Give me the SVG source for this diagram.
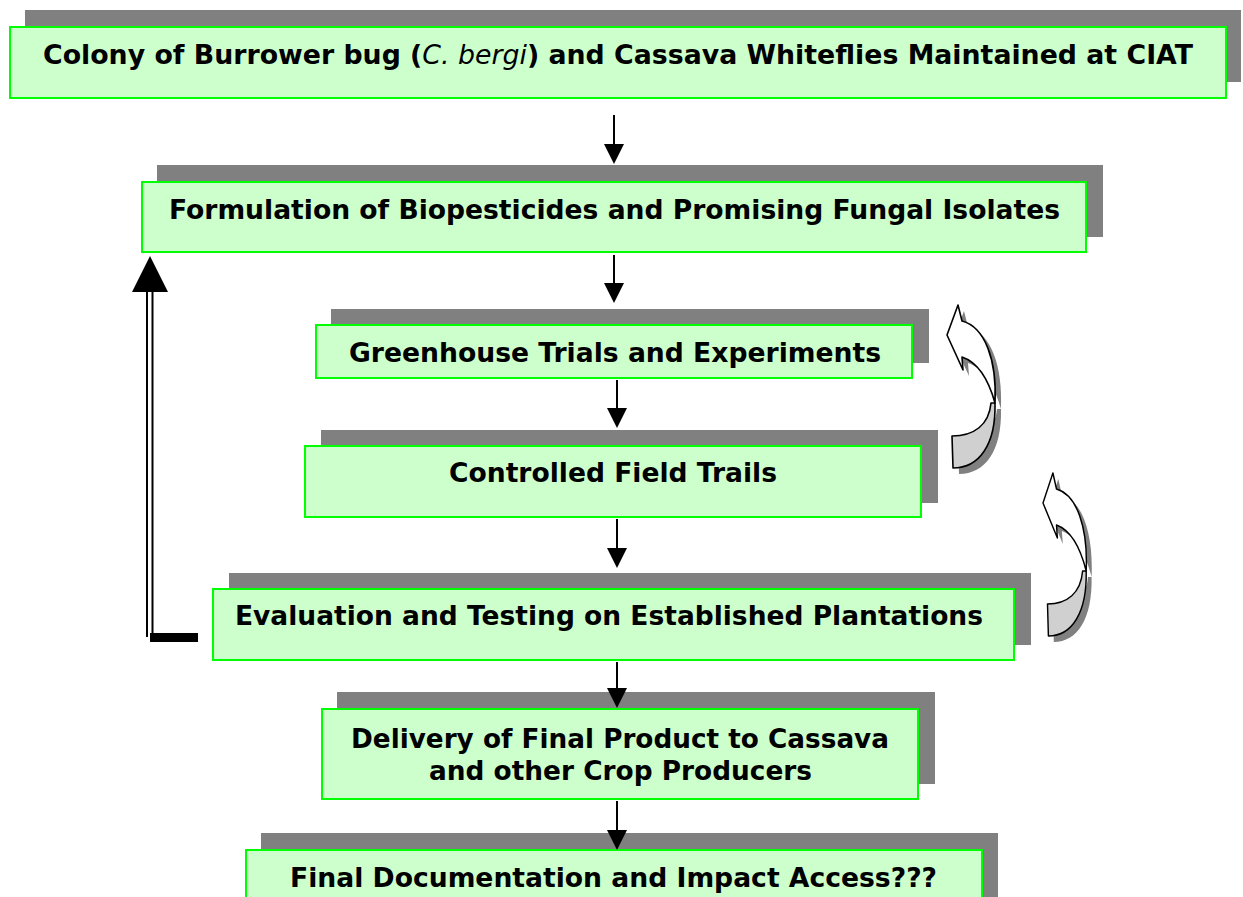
<svg xmlns="http://www.w3.org/2000/svg" width="1243" height="897" viewBox="0 0 1243 897">
<style>
.sh{fill:#808080}
.bx{fill:#CCFFCC;stroke:#00FF00;stroke-width:2}
.t{font-family:"DejaVu Sans","Verdana",sans-serif;font-weight:bold;font-size:26px;fill:#000;text-anchor:middle}
.c{stroke:#000;stroke-width:2;fill:none}
.ca{stroke:#000;stroke-width:1.6;stroke-linejoin:round}
</style>
<defs>
<marker id="ah" markerUnits="userSpaceOnUse" markerWidth="20" markerHeight="20" refX="18" refY="10" orient="auto">
<path d="M0,0 L20,10 L0,20 Z" fill="#000"/>
</marker>
<g id="curl">
<g transform="translate(6,6)" fill="#808080">
<path d="M48,98 C49,140 32,163 6,163 L5,131 C27,131 42,120 44,98 Z"/>
<path d="M11,0 L15,16 C38,22 50,55 48,98 C43,80 33,58 15,52 L16,65 L0,30 Z"/>
</g>
<path class="ca" fill="#D0D0D0" d="M48,98 C49,140 32,163 6,163 L5,131 C27,131 42,120 44,98 Z"/>
<path class="ca" fill="#FFFFFF" d="M11,0 L15,16 C38,22 50,55 48,98 C43,80 33,58 15,52 L16,65 L0,30 Z"/>
</g>
</defs>
<rect width="1243" height="897" fill="#fff"/>

<g id="node1">
<rect class="sh" x="25" y="10" width="1216" height="72"/>
<rect class="bx" x="10" y="27" width="1216" height="71"/>
<text class="t" x="618" y="64" textLength="1150" lengthAdjust="spacingAndGlyphs">Colony of Burrower bug (<tspan font-style="italic" font-weight="normal">C. bergi</tspan>) and Cassava Whiteflies Maintained at CIAT</text>
</g>

<g id="node2">
<rect class="sh" x="157" y="165" width="946" height="72"/>
<rect class="bx" x="142" y="182" width="944" height="70"/>
<text class="t" x="614.5" y="219" textLength="891" lengthAdjust="spacingAndGlyphs">Formulation of Biopesticides and Promising Fungal Isolates</text>
</g>

<g id="node3">
<rect class="sh" x="331" y="309" width="598" height="54"/>
<rect class="bx" x="316" y="325" width="596" height="53"/>
<text class="t" x="615" y="362" textLength="532" lengthAdjust="spacingAndGlyphs">Greenhouse Trials and Experiments</text>
</g>

<g id="node4">
<rect class="sh" x="321" y="430" width="617" height="73"/>
<rect class="bx" x="305" y="446" width="616" height="71"/>
<text class="t" x="613" y="482" textLength="328" lengthAdjust="spacingAndGlyphs">Controlled Field Trails</text>
</g>

<g id="node5">
<rect class="sh" x="229" y="573" width="802" height="72"/>
<rect class="bx" x="213" y="589" width="801" height="71"/>
<text class="t" x="609" y="625" textLength="748" lengthAdjust="spacingAndGlyphs">Evaluation and Testing on Established Plantations</text>
</g>

<g id="node6">
<rect class="sh" x="337" y="692" width="598" height="92"/>
<rect class="bx" x="322" y="709" width="596" height="90"/>
<text class="t" x="620" y="748" textLength="538" lengthAdjust="spacingAndGlyphs">Delivery of Final Product to Cassava</text>
<text class="t" x="620.5" y="780" textLength="383" lengthAdjust="spacingAndGlyphs">and other Crop Producers</text>
</g>

<g id="node7">
<rect class="sh" x="261" y="833" width="737" height="70"/>
<rect class="bx" x="246" y="850" width="736" height="60"/>
<text class="t" x="613.5" y="887" textLength="647" lengthAdjust="spacingAndGlyphs">Final Documentation and Impact Access???</text>
</g>

<g id="connectors">
<line class="c" x1="614" y1="115" x2="614" y2="162" marker-end="url(#ah)"/>
<line class="c" x1="614" y1="255" x2="614" y2="301" marker-end="url(#ah)"/>
<line class="c" x1="617" y1="380" x2="617" y2="426" marker-end="url(#ah)"/>
<line class="c" x1="617" y1="519" x2="617" y2="566" marker-end="url(#ah)"/>
<line class="c" x1="617" y1="662" x2="617" y2="706" marker-end="url(#ah)"/>
<line class="c" x1="617" y1="801" x2="617" y2="848" marker-end="url(#ah)"/>
<line class="c" x1="147" y1="290" x2="147" y2="637"/>
<line class="c" x1="152.5" y1="290" x2="152.5" y2="633"/>
<polygon points="150,256 132,292 168,292" fill="#000"/>
<rect x="150" y="633" width="48" height="9" fill="#000"/>
<use href="#curl" transform="translate(947,305)"/>
<use href="#curl" transform="translate(1043,473) scale(0.9,1)"/>
</g>
</svg>
